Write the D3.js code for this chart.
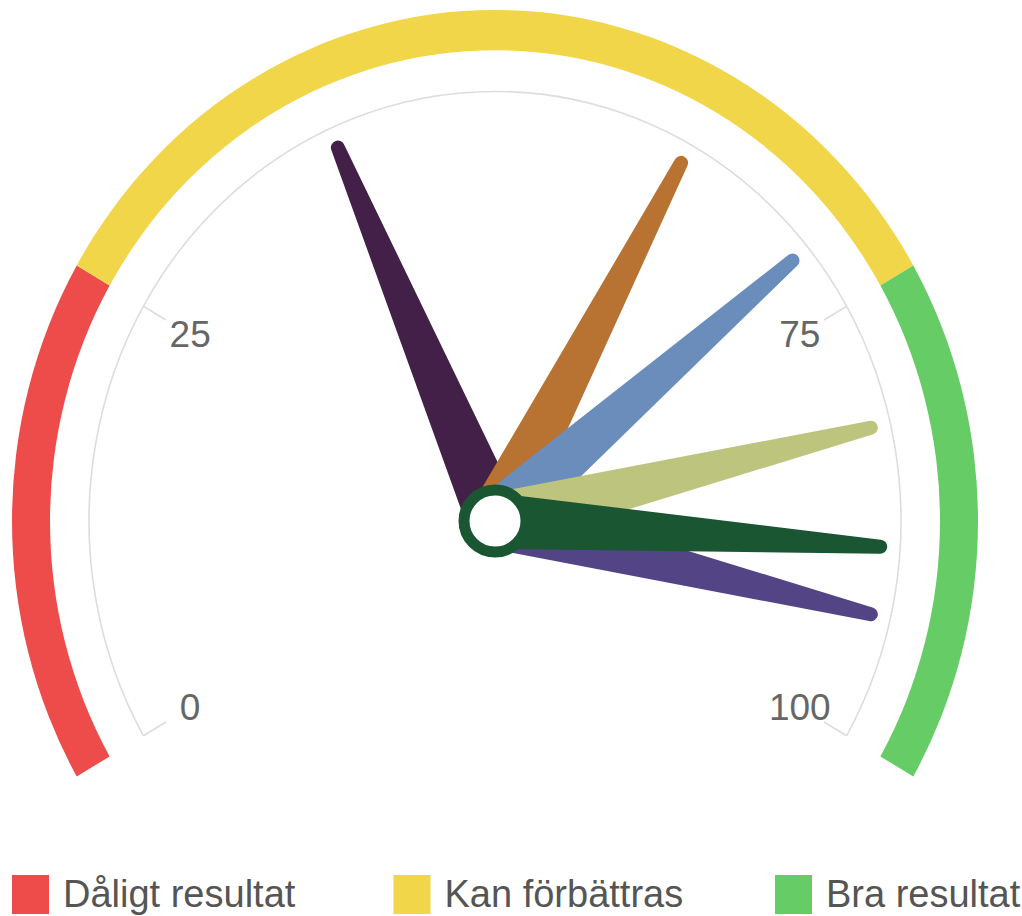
<!DOCTYPE html>
<html>
<head>
<meta charset="utf-8">
<script src="https://cdn.jsdelivr.net/npm/d3@7"></script>
<style>
  html, body { margin: 0; padding: 0; background: #fff; }
  svg { display: block; }
</style>
</head>
<body>
<svg id="chart" width="1022" height="916"></svg>
<script>
// ---- data ----
const bandNames   = ["Dåligt resultat", "Kan förbättras", "Bra resultat"];
const bandFrom    = [0, 25, 75];
const bandTo      = [25, 75, 100];
const bandColors  = ["#EE4B4B", "#F0D648", "#66CC66"];

const needleValues = [40, 62, 71, 82, 93, 89];
const needleColors = ["#432047", "#B87333", "#6A8DBB", "#BCC47D", "#524485", "#1A5632"];

const tickValues  = [0, 25, 75, 100];
const tickLabels  = ["0", "25", "75", "100"];

// ---- layout ----
const svg = d3.select("#chart");
const cx = 495, cy = 521, ky = 1.058;
const rOuter = 483, rInner = 445, rAxis = 406, rTick = 380, rLabel = 352;
const needleLen = 393, baseHalf = 28, tipHalf = 7;

const angle = d3.scaleLinear().domain([0, 100]).range([-120, 120]); // degrees from top
const rad = d => d * Math.PI / 180;
const pt = (v, r) => {
  const a = rad(angle(v));
  return [cx + r * Math.sin(a), cy - ky * r * Math.cos(a)];
};

// bands + axis arc in a vertically stretched group
const g = svg.append("g").attr("transform", `translate(${cx},${cy}) scale(1,${ky})`);
const bandArc = d3.arc().innerRadius(rInner).outerRadius(rOuter);
g.selectAll("path.band").data(bandFrom).join("path")
  .attr("class", "band")
  .attr("fill", (d, i) => bandColors[i])
  .attr("d", (d, i) => bandArc({ startAngle: rad(angle(bandFrom[i])), endAngle: rad(angle(bandTo[i])) }));

g.append("path")
  .attr("fill", "none")
  .attr("stroke", "#dddddd")
  .attr("stroke-width", 1.6)
  .attr("vector-effect", "non-scaling-stroke")
  .attr("d", d3.arc().innerRadius(rAxis).outerRadius(rAxis)({ startAngle: rad(angle(0)), endAngle: rad(angle(100)) }));

// ticks
svg.selectAll("line.tick").data(tickValues).join("line")
  .attr("class", "tick")
  .attr("x1", d => pt(d, rAxis)[0]).attr("y1", d => pt(d, rAxis)[1])
  .attr("x2", d => pt(d, rTick)[0]).attr("y2", d => pt(d, rTick)[1])
  .attr("stroke", "#dddddd").attr("stroke-width", 1.6);

svg.selectAll("text.tl").data(tickValues).join("text")
  .attr("class", "tl")
  .attr("x", d => pt(d, rLabel)[0])
  .attr("y", d => pt(d, rLabel)[1])
  .attr("text-anchor", "middle")
  .attr("dominant-baseline", "central")
  .attr("font-family", "'Liberation Sans', Arial, sans-serif")
  .attr("font-size", 37)
  .attr("fill", "#666666")
  .text((d, i) => tickLabels[i]);

// needles
function needlePath(v) {
  const [tx, ty] = pt(v, needleLen);
  const dx = tx - cx, dy = ty - cy;
  const L = Math.hypot(dx, dy);
  const ux = dx / L, uy = dy / L;      // along
  const px = -uy, py = ux;             // perpendicular
  const ex = cx + ux * (L - tipHalf), ey = cy + uy * (L - tipHalf);
  const p = d3.path();
  p.moveTo(cx + px * baseHalf, cy + py * baseHalf);
  p.lineTo(ex + px * tipHalf, ey + py * tipHalf);
  const a0 = Math.atan2(py, px);
  p.arc(ex, ey, tipHalf, a0, a0 + Math.PI, true);
  p.lineTo(cx - px * baseHalf, cy - py * baseHalf);
  p.closePath();
  return p.toString();
}
svg.selectAll("path.needle").data(needleValues).join("path")
  .attr("class", "needle")
  .attr("fill", (d, i) => needleColors[i])
  .attr("d", d => needlePath(d));

// pivot
svg.append("circle")
  .attr("cx", cx).attr("cy", cy).attr("r", 31)
  .attr("fill", "#ffffff")
  .attr("stroke", "#1A5632")
  .attr("stroke-width", 11);

// legend
const legendX = d3.scaleLinear().domain([0, 1]).range([12, 393.5]);
const lg = svg.selectAll("g.legend").data(bandNames).join("g")
  .attr("class", "legend")
  .attr("transform", (d, i) => `translate(${legendX(i)},875)`);
lg.append("rect").attr("width", 37).attr("height", 39).attr("fill", (d, i) => bandColors[i]);
lg.append("text")
  .attr("x", 51).attr("y", 32)
  .attr("font-family", "'Liberation Sans', Arial, sans-serif")
  .attr("font-size", 38)
  .attr("fill", "#555555")
  .text(d => d);
</script>
</body>
</html>
